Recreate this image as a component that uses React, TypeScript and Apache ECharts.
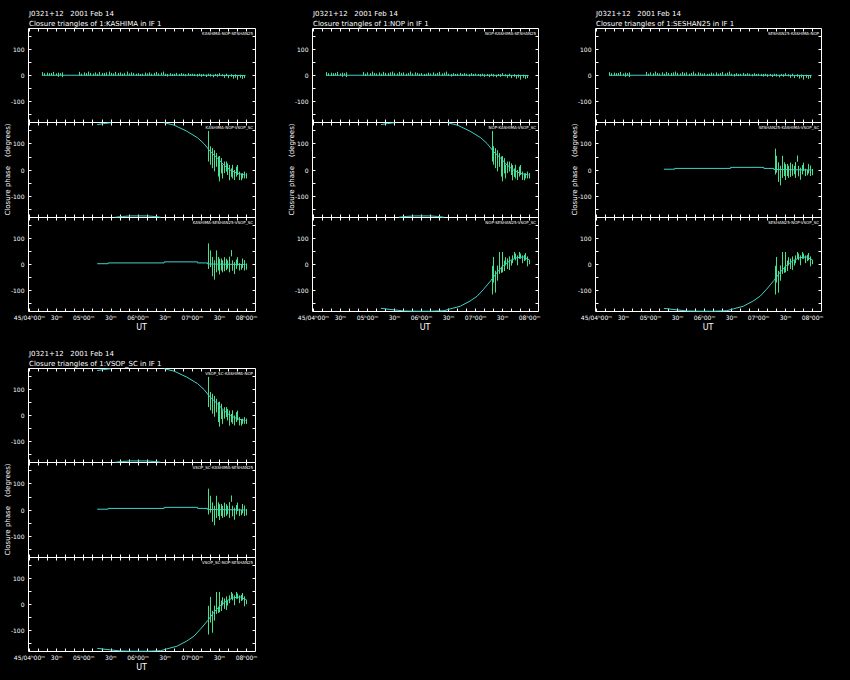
import React, { useEffect, useRef } from 'react';
import * as echarts from 'echarts';

// ---------- axes ----------
const X_MIN = -1;
const X_MAX = 250;
const X_TICK_VALUES = [0, 10, 20, 30, 40, 50, 60, 70, 80, 90, 100, 110, 120, 130, 140, 150, 160, 170, 180, 190, 200, 210, 220, 230, 240];
const X_LABEL_VALUES = [0, 30, 60, 90, 120, 150, 180, 210, 240];
const X_LABELS = ['45/04ʰ00ᵐ', '30ᵐ', '05ʰ00ᵐ', '30ᵐ', '06ʰ00ᵐ', '30ᵐ', '07ʰ00ᵐ', '30ᵐ', '08ʰ00ᵐ'];
const Y_MIN = -180;
const Y_MAX = 180;
const Y_TICK_VALUES = [-150, -100, -50, 0, 50, 100, 150];
const Y_LABEL_VALUES = [-100, 0, 100];

// ---------- texts ----------
const SOURCE_LINE = 'J0321+12   2001 Feb 14';
const PANEL_STATIONS = ['KASHIMA', 'NOP', 'SESHAN25', 'VSOP_SC'];
const PANEL_TRIANGLE_KEYS = [
  ['KNS', 'KNV', 'KSV'],
  ['KNS', 'KNV', 'NSV'],
  ['KNS', 'KSV', 'NSV'],
  ['KNV', 'KSV', 'NSV'],
];
const PANEL_TRIANGLE_LABELS = [
  ['KASHIMA-NOP-SESHAN25', 'KASHIMA-NOP-VSOP_SC', 'KASHIMA-SESHAN25-VSOP_SC'],
  ['NOP-KASHIMA-SESHAN25', 'NOP-KASHIMA-VSOP_SC', 'NOP-SESHAN25-VSOP_SC'],
  ['SESHAN25-KASHIMA-NOP', 'SESHAN25-KASHIMA-VSOP_SC', 'SESHAN25-NOP-VSOP_SC'],
  ['VSOP_SC-KASHIMA-NOP', 'VSOP_SC-KASHIMA-SESHAN25', 'VSOP_SC-NOP-SESHAN25'],
];
const Y_NAME = 'Closure phase    (degrees)';
const X_NAME = 'UT';

// ---------- data: KASHIMA-NOP-SESHAN25 (minutes after 04:00 UT) ----------
const KNS_T = [
  14, 16.5, 19, 21.5, 24, 26.5, 29, 31.5, 34, 36.5,
  55, 57.5, 60, 62.5, 65, 67.5, 70, 72.5, 75, 77.5,
  80, 82.5, 85, 87.5, 90, 92.5, 95, 97.5, 100, 102.5,
  105, 107.5, 110, 112.5, 115, 117.5, 120, 122.5, 125, 127.5,
  130, 132.5, 135, 137.5, 140, 142.5, 145, 147.5, 150, 152.5,
  155, 157.5, 160, 162.5, 165, 167.5, 170, 172.5, 175, 177.5,
  180, 182.5, 185, 187.5, 190, 192.5, 195, 197.5, 200, 202.5,
  205, 207.5, 210, 212.5, 215, 217.5, 220, 222.5, 225, 227.5,
  230, 232.5, 235, 237.5,
];
const KNS_V = [
  6, 4, 5, 4, 5, 7, 4, 3, 5, 3,
  7, 3, 6, 4, 8, 5, 4, 6, 3, 7,
  5, 4, 6, 8, 5, 4, 7, 5, 6, 3,
  5, 8, 4, 6, 5, 3, 4, 2, 3, 5,
  4, 6, 3, 5, 7, 4, 6, 8, 3, 1,
  4, 2, 3, 5, 2, 4, 3, 1, 4, 2,
  3, 2, 1, 3, 0, 2, -1, 3, 1, -2,
  2, 0, 4, 1, -3, 2, -4, 0, -5, -2,
  -8, -3, -6, -4,
];
const KNS_E = [
  7, 5, 6, 5, 5, 7, 4, 8, 4, 9,
  7, 4, 6, 5, 7, 5, 4, 6, 4, 7,
  5, 6, 6, 7, 5, 4, 7, 5, 6, 4,
  5, 7, 4, 6, 5, 4, 5, 4, 4, 6,
  4, 6, 4, 5, 7, 4, 5, 7, 4, 5,
  5, 4, 4, 5, 4, 5, 4, 4, 5, 4,
  4, 4, 5, 4, 5, 4, 5, 4, 5, 5,
  4, 5, 5, 4, 6, 5, 6, 5, 7, 6,
  8, 6, 7, 6,
];
const KNS_MODEL_T = [14, 60, 120, 180, 239];
const KNS_MODEL_V = [1, 1, 1, 1, 0];

// ---------- data: triangles with VSOP_SC ----------
const VSOP_T = [198, 200, 202, 204, 206, 208, 209.5, 211.5, 213, 215, 217, 219, 220.5, 222.5, 224, 226, 228, 230, 231.5, 233.5, 235.5, 237, 239];

// KASHIMA-NOP-VSOP_SC
const KNV_V = [90, 55, 45, 35, 38, 13, 5, 16, -6, 10, 13, 3, -10, -10, -6, -19, -6, 0, -22, -26, -22, -19, -22];
const KNV_E = [58, 35, 38, 40, 26, 38, 48, 29, 26, 22, 19, 22, 29, 16, 26, 19, 19, 19, 16, 13, 10, 13, 10];
const KNV_MODEL_T = [75, 82, 90, 92, 95, 103, 112, 130, 138, 145, 147, 149, 160, 174, 186, 193, 200, 208, 215, 222, 230, 239];
const KNV_MODEL_V = [172, 176, 179, null, -179, -176, -174, -174, -176, -179, null, 179, 170, 147, 122, 100, 70, 45, 19, 0, -13, -19];

// KASHIMA-SESHAN25-VSOP_SC
const KSV_V = [32, 22, -8, -21, 12, 3, -8, 0, -7, 1, 0, 0, 0, 43, -4, -14, 1, 12, -9, -10, 5, -3, -8];
const KSV_E = [49, 32, 37, 37, 42, 26, 30, 23, 23, 27, 22, 16, 30, 12, 20, 23, 18, 16, 14, 10, 18, 20, 12];
const KSV_MODEL_T = [75, 87, 87, 149, 149, 186, 186, 197, 197, 239];
const KSV_MODEL_V = [3, 3, 6, 6, 10, 10, 6, 6, 2, 0];

// NOP-SESHAN25-VSOP_SC
const NSV_V = [-60, -20, -66, -33, 6, -20, 9, -5, 12, 3, 5, 6, 20, 35, 29, 16, 35, 32, 20, 25, 30, 12, 9];
const NSV_E = [55, 49, 42, 29, 42, 12, 39, 20, 16, 20, 26, 10, 15, 13, 13, 19, 13, 10, 15, 12, 14, 19, 8];
const NSV_MODEL_T = [75, 90, 101, 115, 130, 145, 152, 163, 174, 182, 189, 197, 204, 211, 219, 226, 233, 240];
const NSV_MODEL_V = [-168, -174, -178, -179, -179, -177, -170, -160, -140, -121, -95, -62, -30, -4, 16, 26, 29, 18];

// ---------- styles / layout ----------
const BG = '#000000';
const FG = '#ffffff';
const MODEL_COLOR = '#3fd2c8';
const BAR_COLOR = '#48e08c';
const FONT = 'DejaVu Sans';
const PANEL_POS = [
  { left: 28, top: 28, width: 227 },
  { left: 312, top: 28, width: 226 },
  { left: 595, top: 28, width: 226 },
  { left: 28, top: 368, width: 227 },
];
const SUB_OFFSETS = [0, 94, 189];
const SUB_HEIGHTS = [94, 95, 94];

function zip(ts: number[], vs: (number | null)[]) {
  return ts.map((t, i) => [t, vs[i] === null ? '-' : vs[i]]);
}
function zip3(ts: number[], vs: number[], es: number[]) {
  return ts.map((t, i) => [t, vs[i], es[i]]);
}

const TRIANGLE_DATA: Record<string, { bars: any[]; model: any[] }> = {
  KNS: { bars: zip3(KNS_T, KNS_V, KNS_E), model: zip(KNS_MODEL_T, KNS_MODEL_V) },
  KNV: { bars: zip3(VSOP_T, KNV_V, KNV_E), model: zip(KNV_MODEL_T, KNV_MODEL_V) },
  KSV: { bars: zip3(VSOP_T, KSV_V, KSV_E), model: zip(KSV_MODEL_T, KSV_MODEL_V) },
  NSV: { bars: zip3(VSOP_T, NSV_V, NSV_E), model: zip(NSV_MODEL_T, NSV_MODEL_V) },
};

function buildOption() {
  const grid: any[] = [];
  const xAxis: any[] = [];
  const yAxis: any[] = [];
  const series: any[] = [];
  const graphic: any[] = [];

  PANEL_POS.forEach((pos, p) => {
    for (let s = 0; s < 3; s++) {
      const g = p * 3 + s;
      grid.push({
        left: pos.left + 0.5,
        top: pos.top + SUB_OFFSETS[s] + 0.5,
        width: pos.width,
        height: SUB_HEIGHTS[s],
        show: true,
        borderColor: FG,
        borderWidth: 1,
        backgroundColor: 'transparent',
      });
      const xTick = { show: true, inside: true, length: 3, customValues: X_TICK_VALUES, lineStyle: { color: FG, width: 1 } };
      xAxis.push({
        gridIndex: g, type: 'value', min: X_MIN, max: X_MAX, position: 'bottom',
        axisLine: { show: false, onZero: false }, splitLine: { show: false },
        axisTick: xTick,
        axisLabel: {
          show: s === 2, customValues: X_LABEL_VALUES, color: FG, fontSize: 6, margin: 3, fontFamily: FONT,
          formatter: (v: number) => { const i = X_LABEL_VALUES.indexOf(Math.round(v)); return i >= 0 ? X_LABELS[i] : ''; },
        },
      });
      xAxis.push({
        gridIndex: g, type: 'value', min: X_MIN, max: X_MAX, position: 'top',
        axisLine: { show: false, onZero: false }, splitLine: { show: false },
        axisTick: xTick, axisLabel: { show: false },
      });
      const yTick = { show: true, inside: true, length: 3, customValues: Y_TICK_VALUES, lineStyle: { color: FG, width: 1 } };
      yAxis.push({
        gridIndex: g, type: 'value', min: Y_MIN, max: Y_MAX, position: 'left',
        axisLine: { show: false, onZero: false }, splitLine: { show: false },
        axisTick: yTick,
        axisLabel: { show: true, customValues: Y_LABEL_VALUES, color: FG, fontSize: 6, margin: 4, fontFamily: FONT },
      });
      yAxis.push({
        gridIndex: g, type: 'value', min: Y_MIN, max: Y_MAX, position: 'right',
        axisLine: { show: false, onZero: false }, splitLine: { show: false },
        axisTick: yTick, axisLabel: { show: false },
      });

      const tri = TRIANGLE_DATA[PANEL_TRIANGLE_KEYS[p][s]];
      series.push({
        type: 'custom',
        xAxisIndex: 2 * g,
        yAxisIndex: 2 * g,
        data: tri.bars,
        renderItem: (params: any, api: any) => {
          const x = api.value(0);
          const v = api.value(1);
          const e = api.value(2);
          const lo = Math.max(Y_MIN, v - e);
          const hi = Math.min(Y_MAX, v + e);
          const p1 = api.coord([x, lo]);
          const p2 = api.coord([x, hi]);
          const px = Math.round(p1[0]) + 0.5;
          return {
            type: 'line',
            shape: { x1: px, y1: p1[1], x2: px, y2: p2[1] },
            style: { stroke: BAR_COLOR, lineWidth: 1 },
          };
        },
        z: 2,
      });
      series.push({
        type: 'line',
        xAxisIndex: 2 * g,
        yAxisIndex: 2 * g,
        data: tri.model,
        showSymbol: false,
        symbol: 'none',
        connectNulls: false,
        lineStyle: { color: MODEL_COLOR, width: 1 },
        z: 3,
      });

      graphic.push({
        type: 'text',
        x: pos.left + pos.width - 2,
        y: pos.top + SUB_OFFSETS[s] + 5,
        style: { text: PANEL_TRIANGLE_LABELS[p][s], fill: FG, font: `4px "${FONT}"`, align: 'right', verticalAlign: 'middle' },
      });
    }

    graphic.push({
      type: 'text', x: pos.left + 1, y: pos.top - 14,
      style: { text: SOURCE_LINE, fill: FG, font: `7px "${FONT}"`, align: 'left', verticalAlign: 'middle' },
    });
    graphic.push({
      type: 'text', x: pos.left + 1, y: pos.top - 4.5,
      style: { text: `Closure triangles of 1:${PANEL_STATIONS[p]} in IF 1`, fill: FG, font: `7px "${FONT}"`, align: 'left', verticalAlign: 'middle' },
    });
    graphic.push({
      type: 'text', x: pos.left - 20, y: pos.top + SUB_OFFSETS[1] + SUB_HEIGHTS[1] / 2,
      rotation: Math.PI / 2,
      style: { text: Y_NAME, fill: FG, font: `7px "${FONT}"`, align: 'center', verticalAlign: 'middle' },
    });
    graphic.push({
      type: 'text', x: pos.left + pos.width / 2, y: pos.top + SUB_OFFSETS[2] + SUB_HEIGHTS[2] + 16,
      style: { text: X_NAME, fill: FG, font: `8px "${FONT}"`, align: 'center', verticalAlign: 'middle' },
    });
  });

  return {
    animation: false,
    backgroundColor: BG,
    grid,
    xAxis,
    yAxis,
    series,
    graphic,
  };
}

export default function App() {
  const ref = useRef<HTMLDivElement>(null);
  useEffect(() => {
    document.body.style.margin = '0';
    document.body.style.background = BG;
    if (!ref.current) return;
    const chart = echarts.init(ref.current, undefined, { renderer: 'svg' });
    chart.setOption(buildOption());
    return () => chart.dispose();
  }, []);
  return <div ref={ref} style={{ width: 850, height: 680, background: BG }} />;
}
